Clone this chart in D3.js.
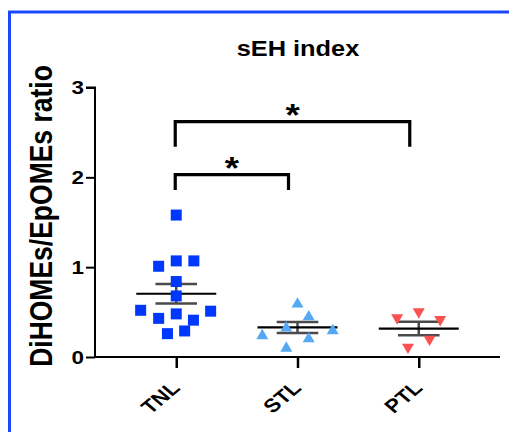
<!DOCTYPE html>
<html>
<head>
<meta charset="utf-8">
<script src="https://cdn.jsdelivr.net/npm/d3@7"></script>
<style>
  html, body { margin: 0; padding: 0; background: #fff; }
  svg { display: block; }
  text { font-family: "Liberation Sans", Arial, Helvetica, sans-serif; font-weight: bold; fill: #000; }
</style>
</head>
<body>
<svg id="chart" width="509" height="432"></svg>
<script>
// Groups on the x axis
const groups = ["TNL", "STL", "PTL"];

// Individual ratios per group
const tnlValues = [1.58, 1.07, 1.07, 1.01, 0.84, 0.68, 0.52, 0.51, 0.43, 0.48, 0.41, 0.26, 0.29];
const stlValues = [0.605, 0.464, 0.338, 0.253, 0.309, 0.219, 0.114];
const ptlValues = [0.420, 0.487, 0.401, 0.182, 0.093];

// Horizontal scatter of each point within its group (-1 … 1 of the mean-bar half width)
const tnlSpread = [0, 0, 0.44, -0.44, 0, 0, -0.89, 0.86, -0.44, 0, 0.43, -0.22, 0.21];
const stlSpread = [0, 0.28, -0.28, -0.88, 0.88, 0.28, -0.28];
const ptlSpread = [-0.54, 0, 0.535, 0.27, -0.27];

// Axis ticks
const yTicks = [0, 1, 2, 3];

// Significance brackets: from group, to group, bar level, leg end, label
const bracketFrom = ["TNL", "TNL"];
const bracketTo = ["STL", "PTL"];
const bracketLevel = [2.03, 2.62];
const bracketLegEnd = [1.86, 2.34];
const bracketLabel = ["*", "*"];

const seriesValues = [tnlValues, stlValues, ptlValues];
const seriesSpread = [tnlSpread, stlSpread, ptlSpread];
const colors = ["#0037FF", "#55A9F4", "#FA5151"];

const svg = d3.select("#chart");
const stretch = 1.18;   // horizontal widening of all lettering

// Frame
svg.append("path")
  .attr("d", "M9.5,432 V12 H509")
  .attr("fill", "none")
  .attr("stroke", "#1A48FF")
  .attr("stroke-width", 3);

const x = d3.scalePoint().domain(groups).range([95, 500]).padding(0.67);
const y = d3.scaleLinear().domain([0, 3]).range([357, 87.5]);
const spread = d3.scaleLinear().domain([-1, 1]).range([-40, 40]);

function label(g, str, tx, ty, size, anchor, rot) {
  return g.append("text")
    .attr("transform", `translate(${tx},${ty}) scale(${stretch},1)` + (rot ? ` rotate(${rot})` : ""))
    .attr("text-anchor", anchor)
    .style("font-size", size + "px")
    .text(str);
}

// Title
label(svg, "sEH index", 298, 55.5, 21.5, "middle");

// Y axis title
label(svg, "DiHOMEs/EpOMEs ratio", 52, 216, 26.5, "middle", -90);

// Y axis
const yAxis = svg.append("g")
  .attr("transform", "translate(95,0)")
  .call(d3.axisLeft(y).tickValues(yTicks).tickFormat(d3.format("d")).tickSize(9).tickPadding(0));
yAxis.select(".domain").attr("stroke", "#000").attr("stroke-width", 2).attr("d", `M-9,${y(3)}H0V${y(0)}`);
yAxis.selectAll(".tick line").attr("stroke", "#000").attr("stroke-width", 2);
yAxis.selectAll(".tick text").remove();
yTicks.forEach(t => label(svg, String(t), 84, y(t) + 6.8, 19, "end"));

// X axis
const xAxis = svg.append("g")
  .attr("transform", `translate(0,${y(0)})`)
  .call(d3.axisBottom(x).tickSize(11).tickPadding(0));
xAxis.select(".domain").attr("stroke", "#000").attr("stroke-width", 2).attr("d", `M94,0H500`);
xAxis.selectAll(".tick line").attr("stroke", "#000").attr("stroke-width", 2.5);
xAxis.selectAll(".tick text").remove();
groups.forEach(gname => label(svg, gname, x(gname) + 5, 389, 19, "end", -45));

// Mean ± SEM bars
const bars = svg.append("g");
seriesValues.forEach((vals, i) => {
  const cx = x(groups[i]);
  const m = d3.mean(vals);
  const sem = d3.deviation(vals) / Math.sqrt(vals.length);
  bars.append("line")
    .attr("x1", cx).attr("x2", cx).attr("y1", y(m + sem)).attr("y2", y(m - sem))
    .attr("stroke", "#4a4a4a").attr("stroke-width", 2.5);
  [m + sem, m - sem].forEach(v => {
    bars.append("line")
      .attr("x1", cx + spread(-0.52)).attr("x2", cx + spread(0.52))
      .attr("y1", y(v)).attr("y2", y(v))
      .attr("stroke", "#4a4a4a").attr("stroke-width", 2.5);
  });
  bars.append("line")
    .attr("x1", cx + spread(-1)).attr("x2", cx + spread(1))
    .attr("y1", y(m)).attr("y2", y(m))
    .attr("stroke", "#000").attr("stroke-width", 2.2);
});

// Points
const symbols = [
  d3.symbol().type(d3.symbolSquare).size(121),
  d3.symbol().type(d3.symbolTriangle).size(62),
  d3.symbol().type(d3.symbolTriangle).size(62)
];
const pts = svg.append("g");
seriesValues.forEach((vals, i) => {
  const cx = x(groups[i]);
  pts.selectAll(null)
    .data(vals.map((v, k) => ({ v, s: seriesSpread[i][k] })))
    .enter()
    .append("path")
    .attr("d", symbols[i]())
    .attr("transform", d => {
      const px = cx + spread(d.s);
      if (i === 1) return `translate(${px},${y(d.v) + 1.5})`;
      if (i === 2) return `translate(${px},${y(d.v) - 1.5}) rotate(180)`;
      return `translate(${px},${y(d.v)})`;
    })
    .attr("fill", colors[i]);
});

// Significance brackets
const br = svg.append("g");
bracketFrom.forEach((f, i) => {
  const x1 = x(f) - 1, x2 = x(bracketTo[i]) - 9;
  br.append("path")
    .attr("d", `M${x1},${y(bracketLegEnd[i])}V${y(bracketLevel[i])}H${x2}V${y(bracketLegEnd[i])}`)
    .attr("fill", "none")
    .attr("stroke", "#000")
    .attr("stroke-width", 3.2);
  label(br, bracketLabel[i], (x1 + x2) / 2, y(bracketLevel[i]) + 4, 31, "middle");
});
</script>
</body>
</html>
